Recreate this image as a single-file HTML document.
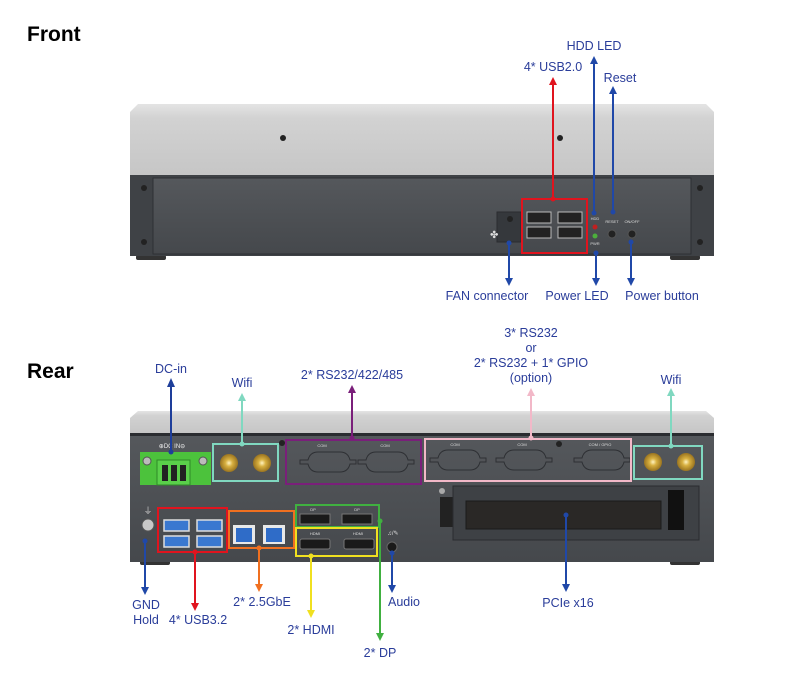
<!DOCTYPE html>
<html><head><meta charset="utf-8"><style>
html,body{margin:0;padding:0;background:#fff;}
svg{display:block;}
text{font-family:"Liberation Sans",sans-serif;}
.lb{font-size:12.5px;fill:#2a3d9a;text-anchor:middle;}
.tt{font-size:21px;font-weight:bold;fill:#000;}
.sm{font-size:4px;fill:#ddd;text-anchor:middle;}
</style></head><body>
<svg width="800" height="680" viewBox="0 0 800 680" xmlns="http://www.w3.org/2000/svg">
<defs>
<linearGradient id="sil" x1="0" y1="0" x2="0" y2="1"><stop offset="0" stop-color="#e4e4e4"/><stop offset="0.2" stop-color="#d2d2d2"/><stop offset="1" stop-color="#c6c6c6"/></linearGradient>
<linearGradient id="drk" x1="0" y1="0" x2="0" y2="1"><stop offset="0" stop-color="#55585c"/><stop offset="1" stop-color="#45484c"/></linearGradient>
<radialGradient id="gold"><stop offset="0" stop-color="#fff3c0"/><stop offset="0.4" stop-color="#d8b040"/><stop offset="1" stop-color="#9a7420"/></radialGradient>
</defs>
<text class="tt" x="27" y="41">Front</text>
<text class="tt" x="27" y="378">Rear</text>

<!-- FRONT DEVICE -->
<rect x="136" y="255" width="30" height="5" rx="2" fill="#333"/>
<rect x="670" y="255" width="30" height="5" rx="2" fill="#333"/>
<path d="M138 104 L706 104 L714 112 L714 175 L130 175 L130 112 Z" fill="url(#sil)"/>
<rect x="130" y="175" width="584" height="81" fill="#3f4246"/>
<rect x="153" y="178" width="538" height="76" fill="url(#drk)" stroke="#2e3034" stroke-width="1"/>
<circle cx="283" cy="138" r="3" fill="#222"/><circle cx="560" cy="138" r="3" fill="#222"/>
<circle cx="144" cy="188" r="3" fill="#222"/><circle cx="144" cy="242" r="3" fill="#222"/>
<circle cx="700" cy="188" r="3" fill="#222"/><circle cx="700" cy="242" r="3" fill="#222"/>
<rect x="497" y="212" width="24" height="30" fill="#35383c" stroke="#2a2c30"/>
<circle cx="510" cy="219" r="3" fill="#222"/>
<text x="490" y="238" font-size="10" fill="#ddd">✤</text>
<rect x="522" y="199" width="65" height="54" fill="none" stroke="#e0141e" stroke-width="2"/>
<g fill="#222" stroke="#bbb" stroke-width="1">
<rect x="527" y="212" width="24" height="11"/><rect x="558" y="212" width="24" height="11"/>
<rect x="527" y="227" width="24" height="11"/><rect x="558" y="227" width="24" height="11"/>
</g>
<circle cx="595" cy="227" r="2.5" fill="#c02020"/><circle cx="595" cy="236" r="2.5" fill="#4caf3c"/>
<text class="sm" x="595" y="220">HDD</text><text class="sm" x="595" y="245">PWR</text>
<text class="sm" x="612" y="223">RESET</text><text class="sm" x="632" y="223">ON/OFF</text>
<circle cx="612" cy="234" r="4" fill="#222" stroke="#555"/><circle cx="632" cy="234" r="4" fill="#222" stroke="#555"/>

<g stroke-width="2" fill="none">
<line x1="553" y1="199" x2="553" y2="84" stroke="#e0141e"/>
<line x1="594" y1="213" x2="594" y2="62" stroke="#2048a8"/>
<line x1="613" y1="212" x2="613" y2="92" stroke="#2048a8"/>
<line x1="509" y1="244" x2="509" y2="280" stroke="#2048a8"/>
<line x1="596" y1="253" x2="596" y2="280" stroke="#2048a8"/>
<line x1="631" y1="242" x2="631" y2="280" stroke="#2048a8"/>
</g>
<polygon points="553,77 549,85 557,85" fill="#e0141e"/>
<g fill="#2048a8">
<polygon points="594,56 590,64 598,64"/><polygon points="613,86 609,94 617,94"/>
<polygon points="509,286 505,278 513,278"/><polygon points="596,286 592,278 600,278"/><polygon points="631,286 627,278 635,278"/>
<circle cx="594" cy="213" r="2.5"/><circle cx="613" cy="212" r="2.5"/><circle cx="509" cy="243" r="2.5"/><circle cx="596" cy="253" r="2.5"/><circle cx="631" cy="242" r="2.5"/>
</g>
<circle cx="553" cy="199" r="2.5" fill="#e0141e"/>
<text class="lb" x="553" y="71">4* USB2.0</text>
<text class="lb" x="594" y="50">HDD LED</text>
<text class="lb" x="620" y="82">Reset</text>
<text class="lb" x="487" y="300">FAN connector</text>
<text class="lb" x="577" y="300">Power LED</text>
<text class="lb" x="662" y="300">Power button</text>

<!-- REAR DEVICE -->
<rect x="140" y="560" width="30" height="5" rx="2" fill="#333"/>
<rect x="670" y="560" width="30" height="5" rx="2" fill="#333"/>
<path d="M138 411 L706 411 L714 418 L714 433 L130 433 L130 418 Z" fill="url(#sil)"/>
<rect x="130" y="433" width="584" height="129" fill="url(#drk)"/>
<rect x="130" y="433" width="584" height="3" fill="#2a2c30"/>
<text class="sm" x="172" y="448" style="font-size:6px;fill:#eee">⊕DC IN⊖</text>
<rect x="140" y="452" width="71" height="33" fill="#4cc23c"/>
<rect x="157" y="460" width="33" height="25" fill="#5ad04a" stroke="#2f8a28"/>
<rect x="162" y="465" width="6" height="16" fill="#222"/><rect x="171" y="465" width="6" height="16" fill="#222"/><rect x="180" y="465" width="6" height="16" fill="#222"/>
<circle cx="147" cy="461" r="4" fill="#bbb" stroke="#555"/><circle cx="203" cy="461" r="4" fill="#bbb" stroke="#555"/>
<rect x="213" y="444" width="65" height="37" fill="none" stroke="#80d8c0" stroke-width="2"/>
<circle cx="229" cy="463" r="9" fill="url(#gold)"/><circle cx="262" cy="463" r="9" fill="url(#gold)"/>
<circle cx="282" cy="443" r="3" fill="#222"/>
<rect x="286" y="440" width="135" height="44" fill="none" stroke="#7a1f7a" stroke-width="2"/>
<g fill="none" stroke="#2e3034" stroke-width="1">
<path d="M300 460 h8 q2 -8 10 -8 h22 q8 0 10 8 h6 v4 h-6 q-2 8 -10 8 h-22 q-8 0 -10 -8 h-8 z"/>
<path d="M358 460 h8 q2 -8 10 -8 h22 q8 0 10 8 h6 v4 h-6 q-2 8 -10 8 h-22 q-8 0 -10 -8 h-8 z"/>
<path d="M430 458 h8 q2 -8 10 -8 h22 q8 0 10 8 h6 v4 h-6 q-2 8 -10 8 h-22 q-8 0 -10 -8 h-8 z"/>
<path d="M496 458 h8 q2 -8 10 -8 h22 q8 0 10 8 h6 v4 h-6 q-2 8 -10 8 h-22 q-8 0 -10 -8 h-8 z"/>
<path d="M574 458 h8 q2 -8 10 -8 h22 q8 0 10 8 h6 v4 h-6 q-2 8 -10 8 h-22 q-8 0 -10 -8 h-8 z"/>
</g>
<text class="sm" x="322" y="447">COM</text><text class="sm" x="385" y="447">COM</text>
<text class="sm" x="455" y="446">COM</text><text class="sm" x="522" y="446">COM</text><text class="sm" x="600" y="446">COM / GPIO</text>
<circle cx="559" cy="444" r="3" fill="#222"/>
<rect x="425" y="439" width="206" height="42" fill="none" stroke="#f2b8c8" stroke-width="2"/>
<rect x="634" y="446" width="68" height="33" fill="none" stroke="#80d8c0" stroke-width="2"/>
<circle cx="653" cy="462" r="9" fill="url(#gold)"/><circle cx="686" cy="462" r="9" fill="url(#gold)"/>
<rect x="440" y="497" width="15" height="30" fill="#222"/>
<circle cx="442" cy="491" r="3" fill="#aaa"/>
<rect x="453" y="486" width="246" height="54" fill="#3e4145" stroke="#2a2c30"/>
<rect x="466" y="501" width="195" height="28" fill="#2a2826" stroke="#1a1a1a"/>
<rect x="668" y="490" width="16" height="40" fill="#111"/>
<text class="sm" x="148" y="514" style="font-size:9px;fill:#ccc">⏚</text>
<circle cx="148" cy="525" r="6" fill="#c8c8c8" stroke="#555"/>
<rect x="158" y="508" width="69" height="44" fill="none" stroke="#e0141e" stroke-width="2"/>
<g fill="#3a78d0" stroke="#ddd" stroke-width="1.5">
<rect x="164" y="520" width="25" height="11"/><rect x="197" y="520" width="25" height="11"/>
<rect x="164" y="536" width="25" height="11"/><rect x="197" y="536" width="25" height="11"/>
</g>
<rect x="229" y="511" width="65" height="37" fill="none" stroke="#f07020" stroke-width="2"/>
<rect x="233" y="525" width="22" height="19" fill="#e8e8e8"/><rect x="236" y="528" width="16" height="14" fill="#2f6cc8"/>
<rect x="263" y="525" width="22" height="19" fill="#e8e8e8"/><rect x="266" y="528" width="16" height="14" fill="#2f6cc8"/>
<rect x="296" y="505" width="83" height="22" fill="none" stroke="#40b040" stroke-width="2"/>
<rect x="296" y="528" width="81" height="28" fill="none" stroke="#f0e020" stroke-width="2"/>
<rect x="300" y="514" width="30" height="10" fill="#1a1a1a" stroke="#777"/><rect x="342" y="514" width="30" height="10" fill="#1a1a1a" stroke="#777"/>
<rect x="300" y="539" width="30" height="10" rx="2" fill="#1a1a1a" stroke="#777"/><rect x="344" y="539" width="30" height="10" rx="2" fill="#1a1a1a" stroke="#777"/>
<text class="sm" x="313" y="511">DP</text><text class="sm" x="357" y="511">DP</text>
<text class="sm" x="315" y="535">HDMI</text><text class="sm" x="358" y="535">HDMI</text>
<circle cx="392" cy="547" r="5" fill="#1a1a1a" stroke="#666"/>
<text class="sm" x="393" y="535" style="font-size:6px">♫/✎</text>

<g stroke-width="2" fill="none">
<line x1="171" y1="452" x2="171" y2="386" stroke="#1e3e9a"/>
<line x1="242" y1="444" x2="242" y2="400" stroke="#80d8c0"/>
<line x1="352" y1="438" x2="352" y2="392" stroke="#7a1f7a"/>
<line x1="531" y1="438" x2="531" y2="395" stroke="#f2b8c8"/>
<line x1="671" y1="446" x2="671" y2="395" stroke="#80d8c0"/>
<line x1="566" y1="515" x2="566" y2="585" stroke="#2048a8"/>
<line x1="145" y1="541" x2="145" y2="589" stroke="#2048a8"/>
<line x1="195" y1="552" x2="195" y2="605" stroke="#e0141e"/>
<line x1="259" y1="548" x2="259" y2="586" stroke="#f07020"/>
<line x1="311" y1="556" x2="311" y2="612" stroke="#f0e020"/>
<line x1="380" y1="521" x2="380" y2="635" stroke="#40b040"/>
<line x1="392" y1="553" x2="392" y2="587" stroke="#2048a8"/>
</g>
<polygon points="171,378 167,387 175,387" fill="#1e3e9a"/><circle cx="171" cy="452" r="2.5" fill="#1e3e9a"/>
<polygon points="242,393 238,401 246,401" fill="#80d8c0"/><circle cx="242" cy="444" r="2.5" fill="#80d8c0"/>
<polygon points="352,385 348,393 356,393" fill="#7a1f7a"/><circle cx="352" cy="438" r="2.5" fill="#7a1f7a"/>
<polygon points="531,388 527,396 535,396" fill="#f2b8c8"/><circle cx="531" cy="438" r="2.5" fill="#f2b8c8"/>
<polygon points="671,388 667,396 675,396" fill="#80d8c0"/><circle cx="671" cy="446" r="2.5" fill="#80d8c0"/>
<polygon points="566,592 562,584 570,584" fill="#2048a8"/><circle cx="566" cy="515" r="2.5" fill="#2048a8"/>
<polygon points="145,595 141,587 149,587" fill="#2048a8"/><circle cx="145" cy="541" r="2.5" fill="#2048a8"/>
<polygon points="195,611 191,603 199,603" fill="#e0141e"/><circle cx="195" cy="552" r="2.5" fill="#e0141e"/>
<polygon points="259,592 255,584 263,584" fill="#f07020"/><circle cx="259" cy="548" r="2.5" fill="#f07020"/>
<polygon points="311,618 307,610 315,610" fill="#f0e020"/><circle cx="311" cy="556" r="2.5" fill="#f0e020"/>
<polygon points="380,641 376,633 384,633" fill="#40b040"/><circle cx="380" cy="521" r="2.5" fill="#40b040"/>
<polygon points="392,593 388,585 396,585" fill="#2048a8"/><circle cx="392" cy="553" r="2.5" fill="#2048a8"/>

<text class="lb" x="171" y="373">DC-in</text>
<text class="lb" x="242" y="387">Wifi</text>
<text class="lb" x="352" y="379">2* RS232/422/485</text>
<text class="lb" x="531" y="337">3* RS232</text>
<text class="lb" x="531" y="352">or</text>
<text class="lb" x="531" y="367">2* RS232 + 1* GPIO</text>
<text class="lb" x="531" y="382">(option)</text>
<text class="lb" x="671" y="384">Wifi</text>
<text class="lb" x="568" y="607">PCIe x16</text>
<text class="lb" x="146" y="609">GND</text>
<text class="lb" x="146" y="624">Hold</text>
<text class="lb" x="198" y="624">4* USB3.2</text>
<text class="lb" x="262" y="606">2* 2.5GbE</text>
<text class="lb" x="311" y="634">2* HDMI</text>
<text class="lb" x="380" y="657">2* DP</text>
<text class="lb" x="404" y="606">Audio</text>
</svg>
</body></html>
